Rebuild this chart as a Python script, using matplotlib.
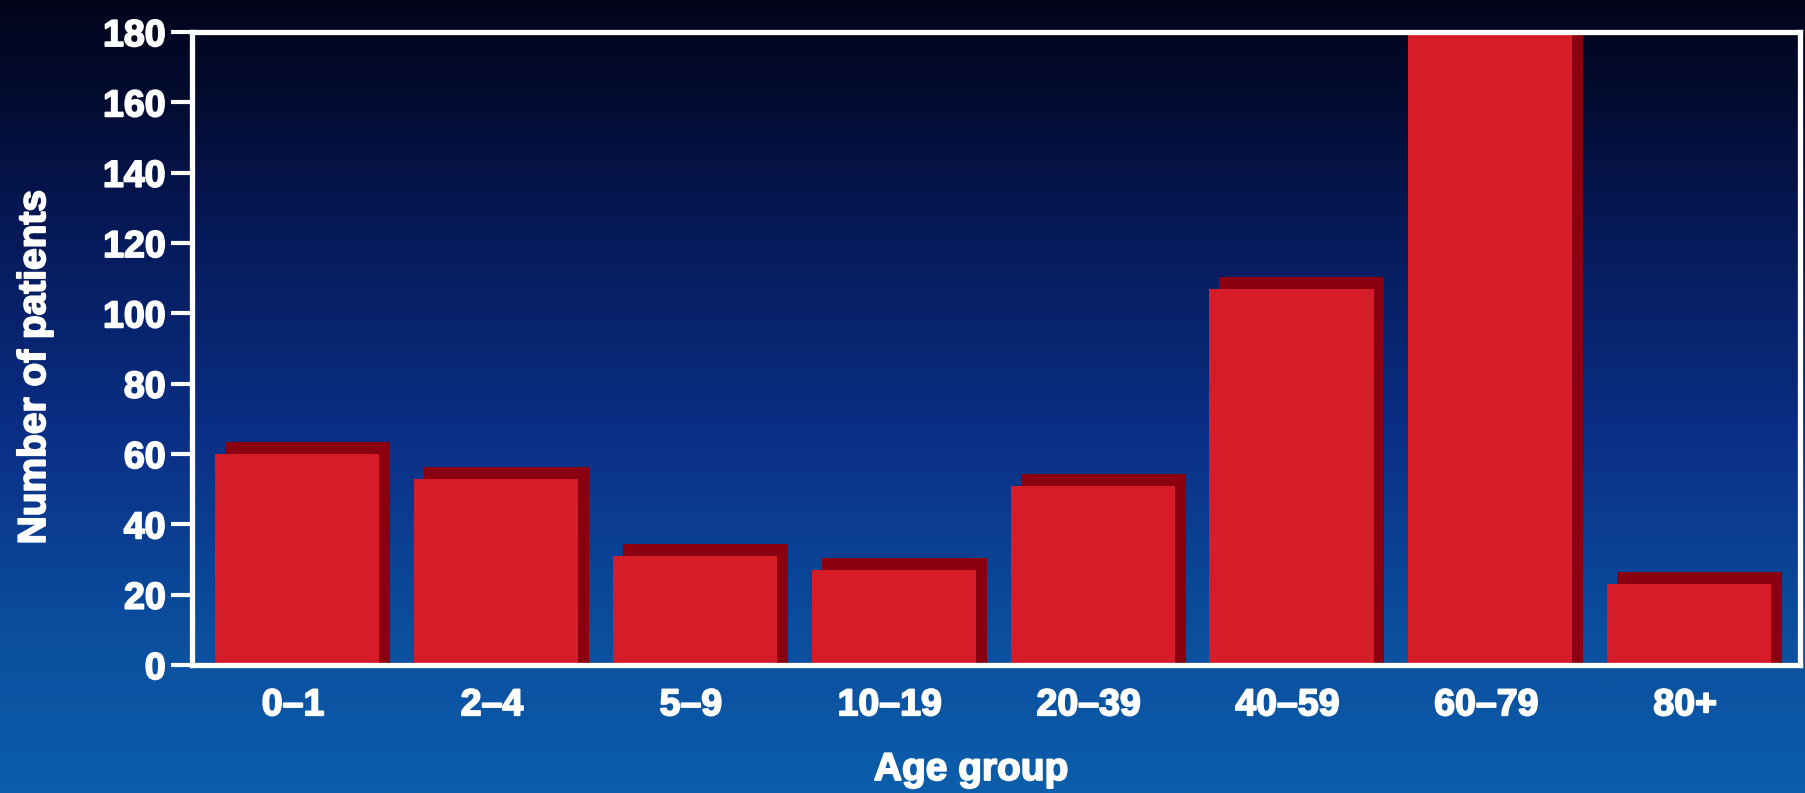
import numpy as np
import matplotlib

matplotlib.use("Agg")
import matplotlib.pyplot as plt
import matplotlib.patheffects as pe
from matplotlib.colors import LinearSegmentedColormap

# ---------------------------------------------------------------------------
# Data
# ---------------------------------------------------------------------------
age_groups = ["0–1", "2–4", "5–9", "10–19", "20–39", "40–59", "60–79", "80+"]
patients = [60, 53, 31, 27, 51, 107, 185, 23]  # 60–79 runs past the top of the axis
y_ticks = [0, 20, 40, 60, 80, 100, 120, 140, 160, 180]

# ---------------------------------------------------------------------------
# Style
# ---------------------------------------------------------------------------
FRONT = "#d61b29"
SHADOW = "#8a0010"
WHITE = "white"
FONT = ["Liberation Sans", "DejaVu Sans"]
HEAVY = [pe.withStroke(linewidth=1.3, foreground=WHITE)]  # slide fonts are heavier

plt.rcParams["font.family"] = FONT
plt.rcParams["font.weight"] = "bold"

fig = plt.figure(figsize=(18.05, 7.93), dpi=100)

# vertical background gradient over the whole figure
bg = fig.add_axes([0, 0, 1, 1], zorder=0)
bg_cmap = LinearSegmentedColormap.from_list(
    "bg",
    [
        (0.00, "#0c5eaa"),
        (0.20, "#0b4e9e"),
        (0.45, "#0a2f86"),
        (0.70, "#061a5a"),
        (0.88, "#030b30"),
        (1.00, "#02041a"),
    ],
)
bg.imshow(
    np.linspace(0, 1, 512).reshape(-1, 1),
    cmap=bg_cmap,
    aspect="auto",
    origin="lower",
    extent=[0, 1, 0, 1],
)
bg.set_axis_off()

ax = fig.add_axes([0.1064, 0.1614, 0.8908, 0.7982], zorder=1)
ax.patch.set_alpha(0)

x = np.arange(len(age_groups))
vals = np.array(patients, dtype=float)

# drop shadow (up and to the right), then the front face
ax.bar(x - 0.342, vals + 3.4, width=0.83, align="edge", color=SHADOW, lw=0, zorder=2)
ax.bar(x - 0.392, vals, width=0.825, align="edge", color=FRONT, lw=0, zorder=3)

ax.set_xlim(-0.508, 7.577)
ax.set_ylim(0, 180)
ax.set_yticks(y_ticks)
ax.set_yticklabels([str(t) for t in y_ticks], fontsize=27, fontweight="bold", color=WHITE)
ax.set_xticks(x)
ax.set_xticklabels(age_groups, fontsize=27, fontweight="bold", color=WHITE)
for lbl in ax.get_xticklabels() + ax.get_yticklabels():
    lbl.set_path_effects(HEAVY)

ax.tick_params(axis="y", direction="out", length=15, width=3, color=WHITE, pad=4)
ax.tick_params(axis="x", length=0, pad=16)

for side in ("left", "bottom", "top", "right"):
    ax.spines[side].set_color(WHITE)
    ax.spines[side].set_linewidth(3.8)
    ax.spines[side].set_zorder(5)

fig.text(0.0194, 0.537, "Number of patients", rotation=90, ha="center", va="center",
         fontsize=28, fontweight="bold", color=WHITE, path_effects=HEAVY)
fig.text(0.538, 0.029, "Age group", ha="center", va="center",
         fontsize=28, fontweight="bold", color=WHITE, path_effects=HEAVY)

fig.savefig("out.png", dpi=100)
